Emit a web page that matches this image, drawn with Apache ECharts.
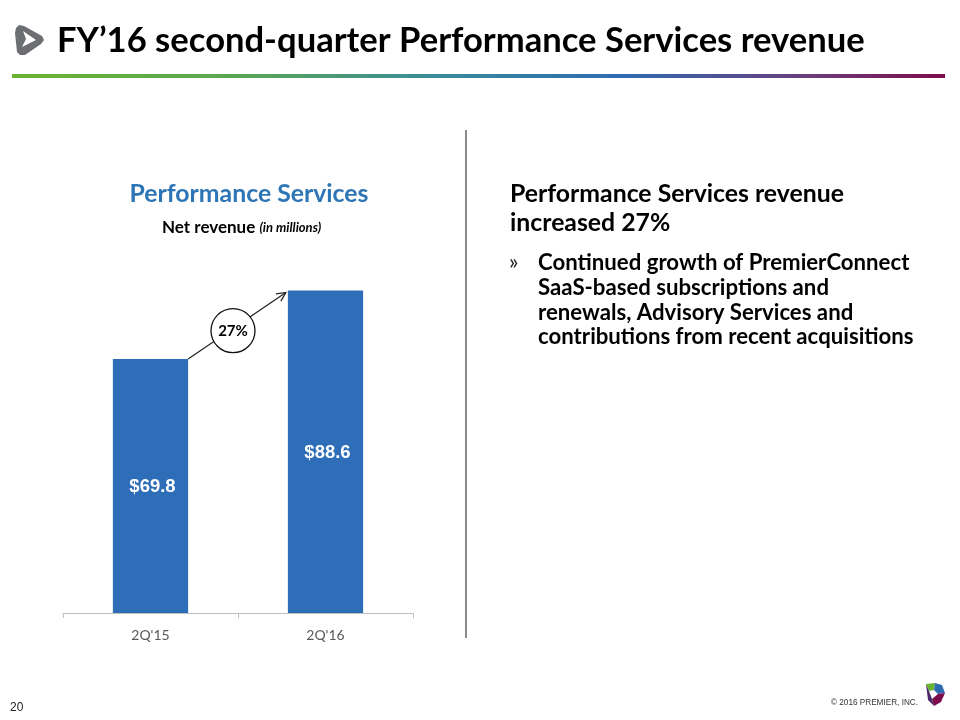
<!DOCTYPE html>
<html>
<head>
<meta charset="utf-8">
<script src="https://cdn.jsdelivr.net/npm/echarts@6/dist/echarts.min.js"></script>
<style>
html,body{margin:0;padding:0;background:#fff;}
#main{width:960px;height:720px;}
</style>
</head>
<body>
<div id="main"></div>
<script>
const categories = ["2Q'15", "2Q'16"];
const revenue = [69.8, 88.6];
const valueLabels = ['$69.8', '$88.6'];
const growthLabel = '27%';
const pageTitle = 'FY\u201916 second-quarter Performance Services revenue';
const chartTitle = 'Performance Services';
const rightHeading = ['Performance Services revenue', 'increased 27%'];
const bulletLines = ['Continued growth of PremierConnect', 'SaaS-based subscriptions and', 'renewals, Advisory Services and', 'contributions from recent acquisitions'];

const FONT = 'Lato, "Open Sans", sans-serif';
const chart = echarts.init(document.getElementById('main'), null, {renderer: 'canvas'});

const staticGraphics = [
  {type: 'text', x: 57, y: 23, style: {text: pageTitle, font: 'bold 34.6px ' + FONT, fill: '#000'}},
  {type: 'rect', shape: {x: 12, y: 74, width: 933, height: 4},
   style: {fill: new echarts.graphic.LinearGradient(0, 0, 1, 0, [
     {offset: 0, color: '#6ab42f'}, {offset: 0.25, color: '#5aa556'}, {offset: 0.45, color: '#3a8c9a'},
     {offset: 0.65, color: '#2e6cb2'}, {offset: 0.85, color: '#6a3e7c'}, {offset: 1, color: '#7d0c4c'}])}},
  {type: 'polygon', shape: {points: [[16, 28], [19, 25], [24, 26], [42, 36], [44, 40], [41, 44], [25, 55], [20, 55], [17, 52], [15, 33]]}, style: {fill: '#6d6e71'}},
  {type: 'polygon', shape: {points: [[23, 31], [36, 40], [22, 47], [26, 39]]}, style: {fill: '#fff'}},
  {type: 'line', shape: {x1: 466, y1: 130, x2: 466, y2: 638}, style: {stroke: '#3a3a3a', lineWidth: 1.2}},
  {type: 'text', x: 162, y: 219, style: {text: '{b|Net revenue }{i|(in millions)}', rich: {
    b: {font: 'bold 17px ' + FONT, fill: '#000'}, i: {font: 'italic bold 13px ' + FONT, fill: '#000'}}}},
  {type: 'text', x: 510, y: 179, style: {text: rightHeading.join('\n'), font: 'bold 24.8px ' + FONT, fill: '#000', lineHeight: 29.5}},
  {type: 'text', x: 509, y: 251, style: {text: '\u00bb', font: '22px ' + FONT, fill: '#222'}},
  {type: 'text', x: 538, y: 251, style: {text: bulletLines.join('\n'), font: 'bold 22.2px ' + FONT, fill: '#000', lineHeight: 24.6}},
  {type: 'text', x: 10, y: 702, style: {text: '20', font: '12px "Liberation Sans", Arial, sans-serif', fill: '#222'}},
  {type: 'text', x: 918, y: 699, style: {text: '\u00a9 2016 PREMIER, INC.', font: '8.2px "Liberation Sans", Arial, sans-serif', fill: '#333', align: 'right'}},
  {type: 'polygon', shape: {points: [[926, 684], [935, 683], [934, 690], [929, 691]]}, style: {fill: '#6ab42f'}},
  {type: 'polygon', shape: {points: [[935, 683], [942, 685], [945, 693], [938, 694], [934, 690]]}, style: {fill: '#2e6cb2'}},
  {type: 'polygon', shape: {points: [[945, 693], [941, 702], [934, 706], [932, 699], [938, 694]]}, style: {fill: '#7d0c4c'}},
  {type: 'polygon', shape: {points: [[934, 706], [928, 700], [926, 684], [929, 691], [932, 699]]}, style: {fill: '#4a2a6a'}}
];

chart.setOption({
  animation: false,
  backgroundColor: '#fff',
  title: {text: chartTitle, left: 244, top: 177, textAlign: 'center',
    textStyle: {color: '#2e75b6', fontFamily: FONT, fontWeight: 'bold', fontSize: 24.8}},
  grid: {left: 63, right: 547, top: 249, bottom: 107, containLabel: false},
  xAxis: {type: 'category', data: categories, boundaryGap: true,
    axisLine: {lineStyle: {color: '#bfbfbf', width: 1}},
    axisTick: {show: true, length: 5, lineStyle: {color: '#bfbfbf'}},
    axisLabel: {color: '#595959', fontFamily: FONT, fontSize: 14, margin: 15}},
  yAxis: {type: 'value', min: 0, max: 100, show: false, splitLine: {show: false}},
  series: [{type: 'bar', data: revenue, barWidth: '43%',
    itemStyle: {color: '#2e6db8'},
    label: {show: true, position: 'inside', offset: [2, 1], formatter: p => valueLabels[p.dataIndex],
      color: '#fff', fontFamily: '"Liberation Sans", Arial, sans-serif', fontWeight: 'bold', fontSize: 18.5}}],
  graphic: staticGraphics
});

const p1 = chart.convertToPixel({gridIndex: 0}, [0, revenue[0]]);
const p2 = chart.convertToPixel({gridIndex: 0}, [1, revenue[1]]);
const band = p2[0] - p1[0];
const hw = band * 0.43 / 2;
const sx = p1[0] + hw, sy = p1[1];
const ex = p2[0] - hw - 2, ey = p2[1] + 2;
const ang = Math.atan2(ey - sy, ex - sx);
const ah = 10, aw = 0.45;
const cx = (sx + ex) / 2 - 4, cy = (sy + ey) / 2 + 5;
chart.setOption({graphic: staticGraphics.concat([
  {type: 'line', shape: {x1: sx, y1: sy, x2: ex, y2: ey}, style: {stroke: '#222', lineWidth: 1.2}},
  {type: 'polyline', shape: {points: [
    [ex - ah * Math.cos(ang - aw), ey - ah * Math.sin(ang - aw)], [ex, ey],
    [ex - ah * Math.cos(ang + aw), ey - ah * Math.sin(ang + aw)]]}, style: {stroke: '#222', lineWidth: 1.2, fill: null}},
  {type: 'circle', shape: {cx: cx, cy: cy, r: 22}, style: {fill: '#fff', stroke: '#111', lineWidth: 1.3}},
  {type: 'text', x: cx, y: cy, style: {text: growthLabel, font: 'bold 15px ' + FONT, fill: '#000', align: 'center', verticalAlign: 'middle'}}
])}, {replaceMerge: ['graphic']});
</script>
</body>
</html>
